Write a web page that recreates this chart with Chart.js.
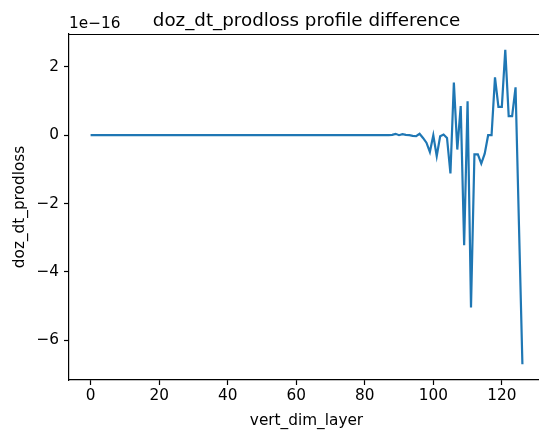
<!DOCTYPE html>
<html>
<head>
<meta charset="utf-8">
<script src="https://cdn.jsdelivr.net/npm/chart.js@4.4.1/dist/chart.umd.min.js"></script>
<style>
  html, body { margin: 0; padding: 0; background: #fff; }
  #wrap { width: 539px; height: 436px; }
</style>
</head>
<body>
<div id="wrap"><canvas id="diffChart" width="539" height="436"></canvas></div>
<script>
// profile difference, in units of 1e-16, one value per vertical layer (0..126)
const diffValues = [
    0, 0, 0, 0, 0, 0, 0, 0, 0, 0, 0, 0, 0, 0, 0, 0, 0, 0, 0, 0,
    0, 0, 0, 0, 0, 0, 0, 0, 0, 0, 0, 0, 0, 0, 0, 0, 0, 0, 0, 0,
    0, 0, 0, 0, 0, 0, 0, 0, 0, 0, 0, 0, 0, 0, 0, 0, 0, 0, 0, 0,
    0, 0, 0, 0, 0, 0, 0, 0, 0, 0, 0, 0, 0, 0, 0, 0, 0, 0, 0, 0,
    0, 0, 0, 0, 0, 0, 0, 0, 0.01, 0.04,
    0, 0.03, 0.01, 0, -0.02, -0.03, 0.04, -0.08, -0.22, -0.49,
    0, -0.61, -0.03, 0.02, -0.08, -1.12, 1.54, -0.42, 0.85, -3.22,
    0.99, -5.04, -0.56, -0.56, -0.83, -0.54, 0, 0, 1.69, 0.83,
    0.83, 2.50, 0.56, 0.56, 1.40, -2.65, -6.70
];
const xTicks = [0, 20, 40, 60, 80, 100, 120];
const yTicks = [-6, -4, -2, 0, 2];
const titleText = 'doz_dt_prodloss profile difference';
const xLabel = 'vert_dim_layer';
const yLabel = 'doz_dt_prodloss';
const yOffsetText = '1e\u221216';

const FONT = '"DejaVu Sans", sans-serif';
const lineColor = '#1f77b4';
const tickSize = 15.3;
const titleSize = 18.3;

// full axes span (right spine sits just past the canvas edge)
const xMin = -6.3, xMaxFull = 132.3;
const axLeft = 69, axRightFull = 544, canvasW = 539;
const xMaxVisible = xMin + (xMaxFull - xMin) * (canvasW - axLeft) / (axRightFull - axLeft);

function fmt(v) {
    return v < 0 ? '\u2212' + Math.abs(v) : String(v);
}

const points = diffValues.map(function (v, i) { return { x: i, y: v }; });

const decorations = {
    id: 'decorations',
    afterDraw: function (chart) {
        const ctx = chart.ctx;
        const area = chart.chartArea;
        const midX = (axLeft + axRightFull) / 2;
        const midY = (area.top + area.bottom) / 2;
        ctx.save();
        // top spine
        ctx.strokeStyle = '#000';
        ctx.lineWidth = 1.2;
        ctx.beginPath();
        ctx.moveTo(area.left, area.top + 0.5);
        ctx.lineTo(area.right, area.top + 0.5);
        ctx.stroke();

        ctx.fillStyle = '#000';
        ctx.textBaseline = 'alphabetic';
        ctx.font = titleSize + 'px ' + FONT;
        ctx.textAlign = 'center';
        ctx.fillText(titleText, midX, 26);

        ctx.font = tickSize + 'px ' + FONT;
        ctx.textAlign = 'left';
        ctx.fillText(yOffsetText, axLeft, 28);

        ctx.textAlign = 'center';
        ctx.fillText(xLabel, midX, 425);

        ctx.translate(20, midY);
        ctx.rotate(-Math.PI / 2);
        ctx.textBaseline = 'middle';
        ctx.fillText(yLabel, 0, 0);
        ctx.restore();
    }
};

const config = {
    type: 'line',
    data: {
        datasets: [{
            data: points,
            borderColor: lineColor,
            borderWidth: 2.2,
            pointRadius: 0,
            tension: 0,
            fill: false
        }]
    },
    plugins: [decorations],
    options: {
        responsive: false,
        animation: false,
        layout: { padding: { left: 0, right: 0, top: 34, bottom: 0 } },
        plugins: {
            legend: { display: false },
            tooltip: { enabled: false },
            title: { display: false }
        },
        scales: {
            x: {
                type: 'linear',
                min: xMin,
                max: xMaxVisible,
                afterBuildTicks: function (scale) {
                    scale.ticks = xTicks.map(function (v) { return { value: v }; });
                },
                afterFit: function (scale) { scale.height = 56; },
                ticks: {
                    autoSkip: false,
                    maxRotation: 0,
                    padding: 2,
                    color: '#000',
                    font: { family: FONT, size: tickSize },
                    callback: function (v) { return fmt(v); }
                },
                grid: {
                    drawOnChartArea: false,
                    drawTicks: true,
                    tickLength: 5,
                    color: '#000',
                    tickWidth: 1.2
                },
                border: { display: true, color: '#000', width: 1.2 }
            },
            y: {
                type: 'linear',
                min: -7.16,
                max: 2.96,
                afterBuildTicks: function (scale) {
                    scale.ticks = yTicks.map(function (v) { return { value: v }; });
                },
                afterFit: function (scale) { scale.width = axLeft; },
                ticks: {
                    padding: 5,
                    color: '#000',
                    font: { family: FONT, size: tickSize },
                    callback: function (v) { return fmt(v); }
                },
                grid: {
                    drawOnChartArea: false,
                    drawTicks: true,
                    tickLength: 5,
                    color: '#000',
                    tickWidth: 1.2
                },
                border: { display: true, color: '#000', width: 1.2 }
            }
        }
    }
};

new Chart(document.getElementById('diffChart'), config);
</script>
</body>
</html>
